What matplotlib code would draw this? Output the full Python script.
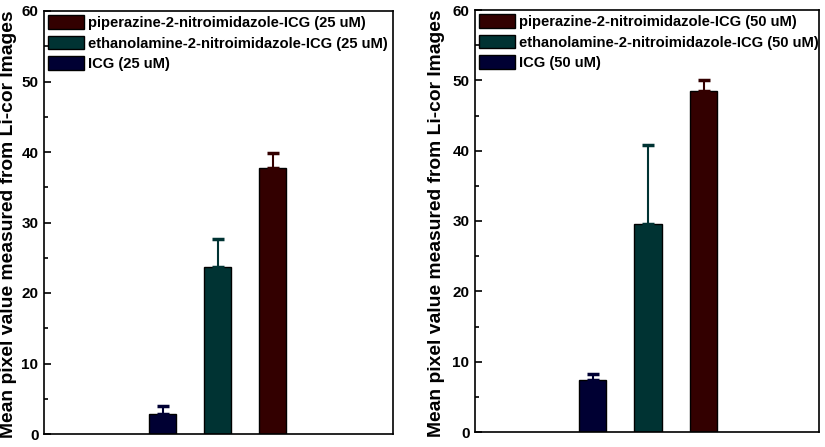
import matplotlib
matplotlib.use("Agg")
import matplotlib.pyplot as plt
import numpy as np
from matplotlib.patches import Patch

plt.rcParams['font.family'] = ['Liberation Sans', 'DejaVu Sans']
plt.rcParams['font.weight'] = 'bold'

# data (ICG, ethanolamine, piperazine)
names = ['ICG', 'ethanolamine-2-nitroimidazole-ICG', 'piperazine-2-nitroimidazole-ICG']
colors = ['#000033', '#003333', '#330000']
means_25 = [2.8, 23.7, 37.7]
errs_25 = [1.2, 3.9, 2.1]
means_50 = [7.4, 29.6, 48.5]
errs_50 = [0.9, 11.2, 1.6]
concs = ['25 uM', '50 uM']

fig = plt.figure(figsize=(8.25, 4.47), dpi=100)
ax1 = fig.add_axes([44/825, 13/447, 349/825, 423/447])
ax2 = fig.add_axes([475/825, 15/447, 344/825, 422/447])

def draw_panel(ax, means, errs, conc, xlim, label_x):
    x = np.arange(1, len(means) + 1)
    ax.bar(x, means, width=0.5, color=colors, edgecolor='black', linewidth=1.0)
    for i in range(len(means)):
        ax.errorbar(x[i], means[i], yerr=[[0], [errs[i]]], fmt='none',
                    ecolor=colors[i], elinewidth=1.5, capsize=4, capthick=2.5)
    ax.set_xlim(*xlim)
    ax.set_ylim(0, 60)
    ax.set_yticks([0, 10, 20, 30, 40, 50, 60])
    ax.set_yticks(np.arange(5, 60, 10), minor=True)
    ax.set_xticks([])
    ax.tick_params(axis='y', direction='in', length=5, width=1.2, labelsize=11, pad=4)
    ax.tick_params(axis='y', which='minor', direction='in', length=3, width=1.2)
    for s in ax.spines.values():
        s.set_linewidth(1.2)
    ax.set_ylabel('Mean pixel value measured from Li-cor Images',
                  fontsize=13.9, fontweight='bold')
    ax.yaxis.set_label_coords(label_x, 0.495)
    handles = [Patch(facecolor=colors[i], edgecolor='black', linewidth=1.0)
               for i in [2, 1, 0]]
    labels = ['%s (%s)' % (names[i], conc) for i in [2, 1, 0]]
    ax.legend(handles, labels, loc='upper left', frameon=False, fontsize=10.6,
              handlelength=2.4, handleheight=1.0, handletextpad=0.3,
              borderpad=0.1, borderaxespad=0.2, labelspacing=0.4)

draw_panel(ax1, means_25, errs_25, concs[0], (-1.16, 5.19), -0.077)
draw_panel(ax2, means_50, errs_50, concs[1], (-1.12, 5.08), -0.087)

fig.savefig('out.png', dpi=100)
